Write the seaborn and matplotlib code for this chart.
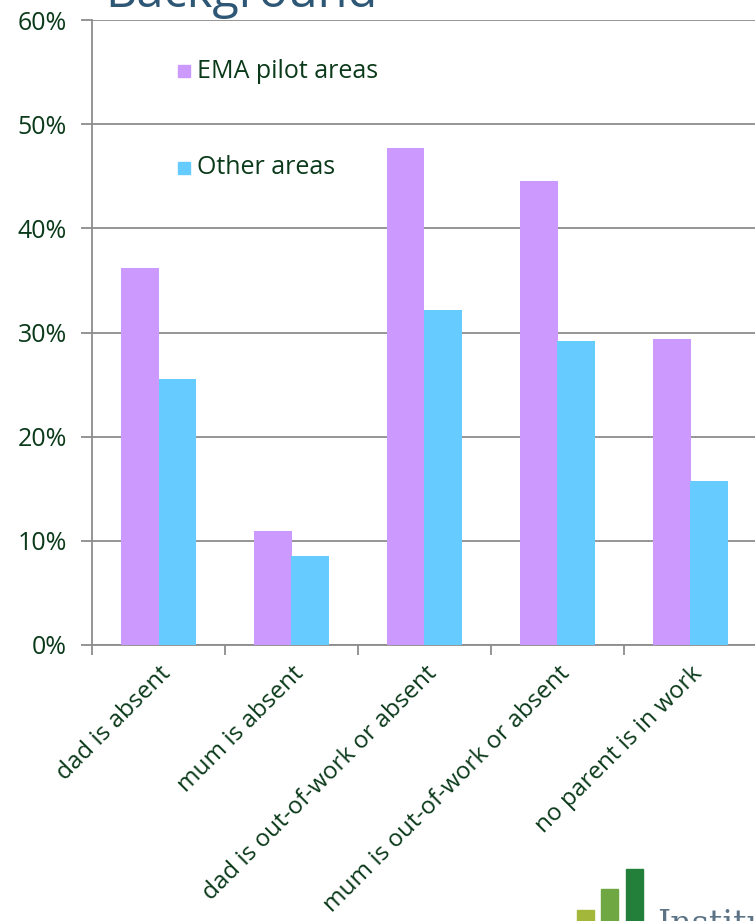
import matplotlib
matplotlib.use("Agg")
import matplotlib.pyplot as plt
from matplotlib.patches import Rectangle
import seaborn as sns
import pandas as pd
import numpy as np

categories = ["dad is absent", "mum is absent", "dad is out-of-work or absent",
              "mum is out-of-work or absent", "no parent is in work"]
ema_pilot = [36.2, 10.9, 47.7, 44.5, 29.4]
other_areas = [25.5, 8.5, 32.2, 29.2, 15.7]
series_names = ["EMA pilot areas", "Other areas"]
y_ticks = [0, 10, 20, 30, 40, 50, 60]

colors = {"EMA pilot areas": "#cc99ff", "Other areas": "#66ccff"}
text_green = "#0b3a1a"
grid_grey = "#8c8c8c"

df = pd.DataFrame({
    "category": categories * 2,
    "series": [series_names[0]] * len(categories) + [series_names[1]] * len(categories),
    "value": ema_pilot + other_areas,
})

sns.set_theme(style="white")
plt.rcParams["font.family"] = ["Open Sans", "DejaVu Sans"]

fig = plt.figure(figsize=(7.55, 9.21), dpi=100)
ax = fig.add_axes([92 / 755, 1 - 645 / 921, 665 / 755, (645 - 20) / 921])

sns.barplot(data=df, x="category", y="value", hue="series", order=categories,
            hue_order=series_names, palette=colors, width=0.565, gap=0,
            saturation=1, linewidth=0, legend=False, ax=ax, zorder=3)

ax.set_xlim(-0.5, len(categories) - 0.5)
ax.set_ylim(0, 60)
ax.set_yticks(y_ticks)
ax.set_yticklabels([f"{t}%" for t in y_ticks], fontsize=18, color=text_green,
                   fontweight="medium")
ax.yaxis.grid(True, color=grid_grey, linewidth=1.3, zorder=0)
ax.set_axisbelow(True)

# category labels at centres, tick marks at category boundaries
ax.set_xticks(range(len(categories)))
ax.set_xticklabels(categories, rotation=45, ha="right", rotation_mode="anchor",
                   fontsize=17.5, color=text_green, fontweight="medium")
ax.tick_params(axis="x", which="major", length=0, pad=12)
ax.set_xticks(np.arange(-0.5, len(categories) + 0.5, 1), minor=True)
ax.tick_params(axis="x", which="minor", length=7, width=1.3, color=grid_grey,
               direction="out", bottom=True)
ax.tick_params(axis="y", length=8, width=1.3, color=grid_grey, direction="out",
               left=True, pad=10)

ax.set_xlabel("")
ax.set_ylabel("")
for side in ["top", "right"]:
    ax.spines[side].set_visible(False)
for side in ["left", "bottom"]:
    ax.spines[side].set_color(grid_grey)
    ax.spines[side].set_linewidth(1.3)

# legend entries
for label, ypix in [("EMA pilot areas", 71), ("Other areas", 168)]:
    fig.patches.append(Rectangle((178 / 755, 1 - (ypix + 6) / 921), 12 / 755, 12 / 921,
                                 transform=fig.transFigure, color=colors[label]))
    fig.text(197 / 755, 1 - ypix / 921, label, fontsize=18, color=text_green,
             va="center", ha="left", fontweight="medium")

# slide heading, cut off by the top edge
fig.text(105 / 755, 1 - 7 / 921, "Background", fontsize=35, color="#2d5775",
         va="baseline", ha="left")

# institute logo in the corner
for x0, y0, c in [(577, 910, "#a3b83a"), (601, 889, "#6fa842"), (626, 869, "#23803a")]:
    fig.patches.append(Rectangle((x0 / 755, 0), 17 / 755, 1 - y0 / 921,
                                 transform=fig.transFigure, color=c))
fig.text(657 / 755, 1 - 934 / 921, "Institute", fontsize=24, color="#5b7385",
         family="DejaVu Serif", va="baseline", ha="left")

fig.savefig("out.png", dpi=100)
